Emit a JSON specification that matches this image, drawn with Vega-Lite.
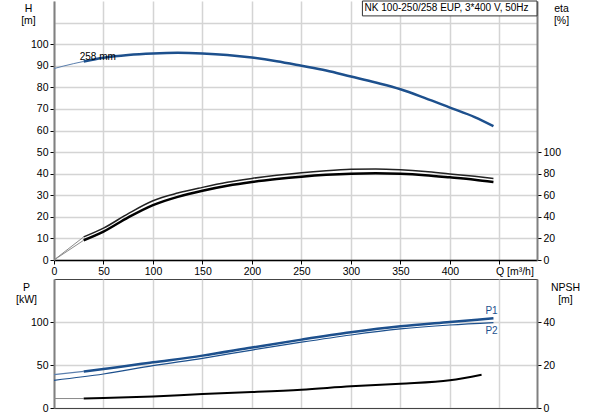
{
  "$schema": "https://vega.github.io/schema/vega-lite/v6.json",
  "padding": {"left": 15, "top": 0, "right": 0, "bottom": 0},
  "bounds": "flush",
  "spacing": 19,
  "datasets": {
    "head": [
      {"s": "thin", "Q": 0, "v": 88.7}, {"s": "thin", "Q": 10, "v": 89.9}, {"s": "thin", "Q": 20, "v": 91.0}, {"s": "thin", "Q": 30, "v": 92.0},
      {"s": "main", "Q": 30, "v": 92.0}, {"s": "main", "Q": 50, "v": 93.7}, {"s": "main", "Q": 75, "v": 95.0}, {"s": "main", "Q": 100, "v": 95.7},
      {"s": "main", "Q": 125, "v": 96.0}, {"s": "main", "Q": 150, "v": 95.7}, {"s": "main", "Q": 175, "v": 95.0}, {"s": "main", "Q": 200, "v": 93.8},
      {"s": "main", "Q": 225, "v": 92.1}, {"s": "main", "Q": 250, "v": 90.0}, {"s": "main", "Q": 275, "v": 87.8}, {"s": "main", "Q": 300, "v": 85.0},
      {"s": "main", "Q": 325, "v": 82.2}, {"s": "main", "Q": 350, "v": 79.1}, {"s": "main", "Q": 375, "v": 75.0}, {"s": "main", "Q": 400, "v": 70.6},
      {"s": "main", "Q": 425, "v": 66.2}, {"s": "main", "Q": 444, "v": 62.0}
    ],
    "eta": [
      {"s": "thin1", "Q": 0, "v": 0}, {"s": "thin1", "Q": 30, "v": 21.4},
      {"s": "thin2", "Q": 0, "v": 0}, {"s": "thin2", "Q": 30, "v": 18.3},
      {"s": "eta1", "Q": 30, "v": 21.4}, {"s": "eta1", "Q": 50, "v": 29.5}, {"s": "eta1", "Q": 75, "v": 43.0}, {"s": "eta1", "Q": 100, "v": 54.9},
      {"s": "eta1", "Q": 125, "v": 62.0}, {"s": "eta1", "Q": 150, "v": 67.3}, {"s": "eta1", "Q": 175, "v": 72.0}, {"s": "eta1", "Q": 200, "v": 75.6},
      {"s": "eta1", "Q": 225, "v": 78.5}, {"s": "eta1", "Q": 250, "v": 80.9}, {"s": "eta1", "Q": 275, "v": 82.7}, {"s": "eta1", "Q": 300, "v": 84.0},
      {"s": "eta1", "Q": 325, "v": 84.4}, {"s": "eta1", "Q": 350, "v": 83.6}, {"s": "eta1", "Q": 375, "v": 82.0}, {"s": "eta1", "Q": 400, "v": 79.7},
      {"s": "eta1", "Q": 425, "v": 77.5}, {"s": "eta1", "Q": 444, "v": 75.6},
      {"s": "eta2", "Q": 30, "v": 18.3}, {"s": "eta2", "Q": 50, "v": 26.3}, {"s": "eta2", "Q": 75, "v": 39.5}, {"s": "eta2", "Q": 100, "v": 50.9},
      {"s": "eta2", "Q": 125, "v": 58.5}, {"s": "eta2", "Q": 150, "v": 64.2}, {"s": "eta2", "Q": 175, "v": 68.8}, {"s": "eta2", "Q": 200, "v": 72.3},
      {"s": "eta2", "Q": 225, "v": 75.0}, {"s": "eta2", "Q": 250, "v": 77.2}, {"s": "eta2", "Q": 275, "v": 78.9}, {"s": "eta2", "Q": 300, "v": 80.0},
      {"s": "eta2", "Q": 325, "v": 80.4}, {"s": "eta2", "Q": 350, "v": 79.9}, {"s": "eta2", "Q": 375, "v": 78.6}, {"s": "eta2", "Q": 400, "v": 76.6},
      {"s": "eta2", "Q": 425, "v": 74.4}, {"s": "eta2", "Q": 444, "v": 72.3}
    ],
    "power": [
      {"s": "P1thin", "Q": 0, "v": 38.8}, {"s": "P1thin", "Q": 30, "v": 42.5},
      {"s": "P1", "Q": 30, "v": 42.5}, {"s": "P1", "Q": 50, "v": 45.3}, {"s": "P1", "Q": 100, "v": 53.1}, {"s": "P1", "Q": 150, "v": 60.9},
      {"s": "P1", "Q": 200, "v": 70.3}, {"s": "P1", "Q": 250, "v": 79.5}, {"s": "P1", "Q": 300, "v": 88.0}, {"s": "P1", "Q": 350, "v": 95.0},
      {"s": "P1", "Q": 400, "v": 100.0}, {"s": "P1", "Q": 444, "v": 104.3},
      {"s": "P2", "Q": 0, "v": 32.2}, {"s": "P2", "Q": 50, "v": 39.5}, {"s": "P2", "Q": 100, "v": 49.3}, {"s": "P2", "Q": 150, "v": 57.8},
      {"s": "P2", "Q": 200, "v": 67.4}, {"s": "P2", "Q": 250, "v": 76.5}, {"s": "P2", "Q": 300, "v": 84.9}, {"s": "P2", "Q": 350, "v": 91.9},
      {"s": "P2", "Q": 400, "v": 96.5}, {"s": "P2", "Q": 444, "v": 99.3}
    ],
    "npsh": [
      {"s": "thin", "Q": 0, "v": 4.4}, {"s": "thin", "Q": 30, "v": 4.4},
      {"s": "main", "Q": 30, "v": 4.4}, {"s": "main", "Q": 50, "v": 4.6}, {"s": "main", "Q": 100, "v": 5.4}, {"s": "main", "Q": 150, "v": 6.5},
      {"s": "main", "Q": 200, "v": 7.4}, {"s": "main", "Q": 250, "v": 8.5}, {"s": "main", "Q": 300, "v": 10.1}, {"s": "main", "Q": 350, "v": 11.3},
      {"s": "main", "Q": 400, "v": 12.9}, {"s": "main", "Q": 432, "v": 15.5}
    ]
  },
  "vconcat": [
    {
      "width": 483,
      "height": 259,
      "view": {"stroke": null},
      "resolve": {"scale": {"y": "independent"}},
      "layer": [
        {
          "layer": [
            {
              "data": {"name": "head"},
              "transform": [{"filter": "datum.s == 'thin'"}],
              "mark": {"type": "line", "color": "#5b7fae", "strokeWidth": 1, "interpolate": "monotone"},
              "encoding": {
                "x": {
                  "field": "Q", "type": "quantitative", "title": null,
                  "scale": {"domain": [0, 488], "nice": false},
                  "axis": {
                    "values": [0, 50, 100, 150, 200, 250, 300, 350, 400, 450],
                    "grid": true,
                    "domainColor": "#000", "domainWidth": 1.5,
                    "labelExpr": "datum.value == 450 ? 'Q [m³/h]' : datum.label",
                    "labelAlign": {"condition": {"test": "datum.value == 450", "value": "left"}, "value": "center"},
                    "labelOffset": {"condition": {"test": "datum.value == 450", "value": -4}, "value": 0}
                  }
                },
                "y": {
                  "field": "v", "type": "quantitative", "title": "H",
                  "scale": {"domain": [0, 120], "nice": false},
                  "axis": {
                    "title": ["H", "[m]"],
                    "values": [0, 10, 20, 30, 40, 50, 60, 70, 80, 90, 100, 110],
                    "labelExpr": "datum.value > 100 ? '' : datum.label",
                    "tickOpacity": {"condition": {"test": "datum.value > 100", "value": 0}, "value": 1},
                    "grid": true,
                    "titleAngle": 0, "titleAlign": "center", "titleBaseline": "top",
                    "titleX": -26, "titleY": 2, "titleLineHeight": 12
                  }
                }
              }
            },
            {
              "data": {"name": "head"},
              "transform": [{"filter": "datum.s == 'main'"}],
              "mark": {"type": "line", "color": "#1d508d", "strokeWidth": 2.5, "interpolate": "monotone"},
              "encoding": {
                "x": {
                  "field": "Q", "type": "quantitative", "title": null,
                  "scale": {"domain": [0, 488], "nice": false},
                  "axis": {
                    "values": [0, 50, 100, 150, 200, 250, 300, 350, 400, 450],
                    "grid": true,
                    "domainColor": "#000", "domainWidth": 1.5,
                    "labelExpr": "datum.value == 450 ? 'Q [m³/h]' : datum.label",
                    "labelAlign": {"condition": {"test": "datum.value == 450", "value": "left"}, "value": "center"},
                    "labelOffset": {"condition": {"test": "datum.value == 450", "value": -4}, "value": 0}
                  }
                },
                "y": {
                  "field": "v", "type": "quantitative", "title": "H",
                  "scale": {"domain": [0, 120], "nice": false},
                  "axis": {
                    "title": ["H", "[m]"],
                    "values": [0, 10, 20, 30, 40, 50, 60, 70, 80, 90, 100, 110],
                    "labelExpr": "datum.value > 100 ? '' : datum.label",
                    "tickOpacity": {"condition": {"test": "datum.value > 100", "value": 0}, "value": 1},
                    "grid": true,
                    "titleAngle": 0, "titleAlign": "center", "titleBaseline": "top",
                    "titleX": -26, "titleY": 2, "titleLineHeight": 12
                  }
                }
              }
            },
            {
              "data": {"values": [{}]},
              "mark": {"type": "text", "align": "left", "baseline": "middle", "fontSize": 10, "color": "#000"},
              "encoding": {
                "x": {
                  "datum": 26, "type": "quantitative",
                  "axis": {
                    "values": [0, 50, 100, 150, 200, 250, 300, 350, 400, 450],
                    "grid": true,
                    "domainColor": "#000", "domainWidth": 1.5,
                    "labelExpr": "datum.value == 450 ? 'Q [m³/h]' : datum.label",
                    "labelAlign": {"condition": {"test": "datum.value == 450", "value": "left"}, "value": "center"},
                    "labelOffset": {"condition": {"test": "datum.value == 450", "value": -4}, "value": 0}
                  }
                },
                "y": {
                  "datum": 94, "type": "quantitative",
                  "axis": {
                    "title": ["H", "[m]"],
                    "values": [0, 10, 20, 30, 40, 50, 60, 70, 80, 90, 100, 110],
                    "labelExpr": "datum.value > 100 ? '' : datum.label",
                    "tickOpacity": {"condition": {"test": "datum.value > 100", "value": 0}, "value": 1},
                    "grid": true,
                    "titleAngle": 0, "titleAlign": "center", "titleBaseline": "top",
                    "titleX": -26, "titleY": 2, "titleLineHeight": 12
                  }
                },
                "text": {"value": "258 mm"}
              }
            },
            {
              "data": {"values": [{}]},
              "mark": {"type": "rect", "fill": "#fff", "stroke": "#333", "strokeWidth": 1},
              "encoding": {
                "x": {
                  "datum": 311.6, "type": "quantitative",
                  "axis": {
                    "values": [0, 50, 100, 150, 200, 250, 300, 350, 400, 450],
                    "grid": true,
                    "domainColor": "#000", "domainWidth": 1.5,
                    "labelExpr": "datum.value == 450 ? 'Q [m³/h]' : datum.label",
                    "labelAlign": {"condition": {"test": "datum.value == 450", "value": "left"}, "value": "center"},
                    "labelOffset": {"condition": {"test": "datum.value == 450", "value": -4}, "value": 0}
                  }
                },
                "x2": {"datum": 488},
                "y": {
                  "datum": 113.1, "type": "quantitative",
                  "axis": {
                    "title": ["H", "[m]"],
                    "values": [0, 10, 20, 30, 40, 50, 60, 70, 80, 90, 100, 110],
                    "labelExpr": "datum.value > 100 ? '' : datum.label",
                    "tickOpacity": {"condition": {"test": "datum.value > 100", "value": 0}, "value": 1},
                    "grid": true,
                    "titleAngle": 0, "titleAlign": "center", "titleBaseline": "top",
                    "titleX": -26, "titleY": 2, "titleLineHeight": 12
                  }
                },
                "y2": {"datum": 120}
              }
            },
            {
              "data": {"values": [{}]},
              "mark": {"type": "text", "align": "left", "baseline": "middle", "fontSize": 10, "color": "#000"},
              "encoding": {
                "x": {
                  "datum": 313.8, "type": "quantitative",
                  "axis": {
                    "values": [0, 50, 100, 150, 200, 250, 300, 350, 400, 450],
                    "grid": true,
                    "domainColor": "#000", "domainWidth": 1.5,
                    "labelExpr": "datum.value == 450 ? 'Q [m³/h]' : datum.label",
                    "labelAlign": {"condition": {"test": "datum.value == 450", "value": "left"}, "value": "center"},
                    "labelOffset": {"condition": {"test": "datum.value == 450", "value": -4}, "value": 0}
                  }
                },
                "y": {
                  "datum": 116.6, "type": "quantitative",
                  "axis": {
                    "title": ["H", "[m]"],
                    "values": [0, 10, 20, 30, 40, 50, 60, 70, 80, 90, 100, 110],
                    "labelExpr": "datum.value > 100 ? '' : datum.label",
                    "tickOpacity": {"condition": {"test": "datum.value > 100", "value": 0}, "value": 1},
                    "grid": true,
                    "titleAngle": 0, "titleAlign": "center", "titleBaseline": "top",
                    "titleX": -26, "titleY": 2, "titleLineHeight": 12
                  }
                },
                "text": {"value": "NK 100-250/258 EUP, 3*400 V, 50Hz"}
              }
            }
          ]
        },
        {
          "data": {"name": "eta"},
          "encoding": {
            "x": {"field": "Q", "type": "quantitative", "title": null},
            "y": {
              "field": "v", "type": "quantitative",
              "scale": {"domain": [0, 240], "nice": false},
              "axis": {
                "orient": "right",
                "values": [0, 20, 40, 60, 80, 100],
                "grid": false,
                "title": ["eta", "[%]"], "titleAngle": 0, "titleAlign": "center", "titleBaseline": "top",
                "titleX": 24, "titleY": 2, "titleLineHeight": 12
              }
            }
          },
          "layer": [
            {
              "transform": [{"filter": "datum.s == 'thin1' || datum.s == 'thin2'"}],
              "mark": {"type": "line", "color": "#8a8a8a", "strokeWidth": 1},
              "encoding": {"detail": {"field": "s"}}
            },
            {
              "transform": [{"filter": "datum.s == 'eta1'"}],
              "mark": {"type": "line", "color": "#222", "strokeWidth": 1.5, "interpolate": "monotone"}
            },
            {
              "transform": [{"filter": "datum.s == 'eta2'"}],
              "mark": {"type": "line", "color": "#000", "strokeWidth": 2.5, "interpolate": "monotone"}
            }
          ]
        }
      ]
    },
    {
      "width": 483,
      "height": 129,
      "view": {"stroke": "#444"},
      "resolve": {"scale": {"y": "independent"}},
      "layer": [
        {
          "data": {"name": "power"},
          "encoding": {
            "x": {
              "field": "Q", "type": "quantitative", "title": null,
              "scale": {"domain": [0, 488], "nice": false},
              "axis": {
                "values": [0, 50, 100, 150, 200, 250, 300, 350, 400, 450],
                "grid": true, "labels": false, "ticks": false,
                "domainColor": "#444", "domainWidth": 1
              }
            },
            "y": {
              "field": "v", "type": "quantitative", "title": "P",
              "scale": {"domain": [0, 150], "nice": false},
              "axis": {
                "title": ["P", "[kW]"],
                "values": [0, 50, 100],
                "grid": true,
                "titleAngle": 0, "titleAlign": "center", "titleBaseline": "top",
                "titleX": -28, "titleY": 3, "titleLineHeight": 12
              }
            }
          },
          "layer": [
            {
              "transform": [{"filter": "datum.s == 'P1thin'"}],
              "mark": {"type": "line", "color": "#5b7fae", "strokeWidth": 1.2}
            },
            {
              "transform": [{"filter": "datum.s == 'P1'"}],
              "mark": {"type": "line", "color": "#1d508d", "strokeWidth": 2.5, "interpolate": "monotone"}
            },
            {
              "transform": [{"filter": "datum.s == 'P2'"}],
              "mark": {"type": "line", "color": "#1d508d", "strokeWidth": 1.2, "interpolate": "monotone"}
            },
            {
              "transform": [{"filter": "datum.s == 'P1' && datum.Q == 444"}],
              "mark": {"type": "text", "align": "left", "baseline": "middle", "fontSize": 10, "color": "#1d508d", "dx": -8, "dy": -7},
              "encoding": {"text": {"field": "s"}}
            },
            {
              "transform": [{"filter": "datum.s == 'P2' && datum.Q == 444"}],
              "mark": {"type": "text", "align": "left", "baseline": "middle", "fontSize": 10, "color": "#1d508d", "dx": -8, "dy": 8},
              "encoding": {"text": {"field": "s"}}
            }
          ]
        },
        {
          "data": {"name": "npsh"},
          "encoding": {
            "x": {"field": "Q", "type": "quantitative", "title": null},
            "y": {
              "field": "v", "type": "quantitative",
              "scale": {"domain": [0, 60], "nice": false},
              "axis": {
                "orient": "right",
                "values": [0, 20, 40],
                "grid": false,
                "title": ["NPSH", "[m]"], "titleAngle": 0, "titleAlign": "center", "titleBaseline": "top",
                "titleX": 28, "titleY": 3, "titleLineHeight": 12
              }
            }
          },
          "layer": [
            {
              "transform": [{"filter": "datum.s == 'thin'"}],
              "mark": {"type": "line", "color": "#8a8a8a", "strokeWidth": 1}
            },
            {
              "transform": [{"filter": "datum.s == 'main'"}],
              "mark": {"type": "line", "color": "#000", "strokeWidth": 2, "interpolate": "monotone"}
            }
          ]
        }
      ]
    }
  ],
  "config": {
    "font": "Liberation Sans",
    "view": {"stroke": null},
    "axis": {
      "labelFont": "Liberation Sans",
      "labelFontSize": 10.5,
      "labelColor": "#000",
      "titleFont": "Liberation Sans",
      "titleFontSize": 10.5,
      "titleFontWeight": "normal",
      "titleColor": "#000",
      "gridColor": "#d4d4d4",
      "gridWidth": 1.5,
      "tickColor": "#000",
      "tickSize": 4,
      "domainColor": "#808080",
      "domainWidth": 2,
      "labelPadding": 2
    }
  }
}
